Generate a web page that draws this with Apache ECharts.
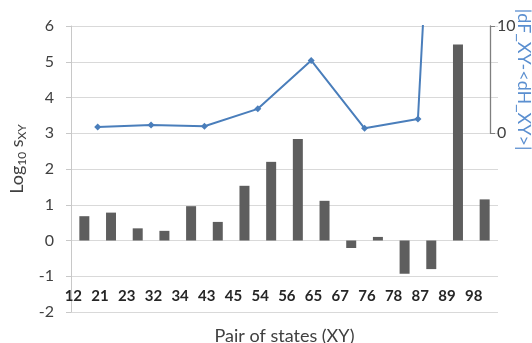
<!DOCTYPE html>
<html><head><meta charset="utf-8">
<script src="https://cdn.jsdelivr.net/npm/echarts@6/dist/echarts.min.js"></script>
<style>html,body{margin:0;padding:0;background:#fff}#c{width:532px;height:343px}</style>
</head><body><div id="c"></div>
<script>
const categories = ['12','21','23','32','34','43','45','54','56','65','67','76','78','87','89','98'];
const logS = [0.68,0.78,0.34,0.27,0.96,0.52,1.53,2.2,2.84,1.11,-0.21,0.10,-0.93,-0.80,5.48,1.15];
const pairs = ['12/21','23/32','34/43','45/54','56/65','67/76','78/87','89/98'];
const dFdH = [0.59,0.78,0.66,2.28,6.79,0.47,1.34,95];
const rightTicks = [0,10];

const FONT = 'Lato';
const chart = echarts.init(document.getElementById('c'), null, {renderer:'canvas'});
chart.setOption({
  animation:false,
  textStyle:{fontFamily:FONT},
  grid:[
    {left:71,right:34,top:26,bottom:31,outerBoundsMode:'none',containLabel:false},
    {left:71,right:34,top:26,height:107.3,outerBoundsMode:'none',containLabel:false}
  ],
  xAxis:[
    {type:'category',gridIndex:0,data:categories,position:'bottom',offset:-23,
     axisLine:{show:false},axisTick:{show:false},
     axisLabel:{interval:0,margin:0,fontWeight:'bold',fontSize:15,color:'#262626',fontFamily:FONT,padding:[0,22,0,0]},
     name:'Pair of states (XY)',nameLocation:'middle',nameGap:38,nameMoveOverlap:false,
     nameTextStyle:{fontSize:18,color:'#404040',fontFamily:FONT}},
    {type:'category',gridIndex:1,data:pairs,show:false}
  ],
  yAxis:[
    {type:'value',gridIndex:0,min:-2,max:6,interval:1,
     axisLine:{show:true,lineStyle:{color:'#c8c8c8'}},
     axisTick:{show:true,length:5,lineStyle:{color:'#c8c8c8'}},
     splitLine:{lineStyle:{color:'#d9d9d9'}},
     axisLabel:{fontSize:16,color:'#404040',margin:17,fontFamily:FONT},
     name:'{p|\u00a0}{a|Log}{s|10}{a| s}{s|XY}',nameLocation:'middle',nameGap:43,nameRotate:90,nameMoveOverlap:false,
     nameTextStyle:{rich:{p:{width:20,fontSize:18,lineHeight:21},a:{fontSize:18,lineHeight:21,color:'#404040',fontFamily:FONT},s:{fontSize:12,lineHeight:12,verticalAlign:'bottom',color:'#404040',fontFamily:FONT}}}},
    {type:'value',gridIndex:1,min:rightTicks[0],max:rightTicks[1],interval:10,position:'right',offset:-8,
     axisLine:{show:true,lineStyle:{color:'#7f7f7f',width:1.3}},
     axisTick:{show:true,length:5,lineStyle:{color:'#7f7f7f'}},
     splitLine:{show:false},
     axisLabel:{fontSize:16,color:'#404040',margin:7,fontFamily:FONT},
     name:'|dF_XY-<dH_XY>|',nameLocation:'middle',nameGap:25,nameRotate:-90,nameMoveOverlap:false,
     nameTextStyle:{fontSize:18,color:'#5b8fd0',fontFamily:FONT}}
  ],
  series:[
    {type:'bar',xAxisIndex:0,yAxisIndex:0,data:logS,barWidth:10,itemStyle:{color:'#5e5e5e'}},
    {type:'line',xAxisIndex:1,yAxisIndex:1,data:dFdH,clip:true,symbol:'diamond',symbolSize:7,
     lineStyle:{color:'#4a7ebb',width:2},itemStyle:{color:'#4a7ebb'}}
  ]
});
</script></body></html>
